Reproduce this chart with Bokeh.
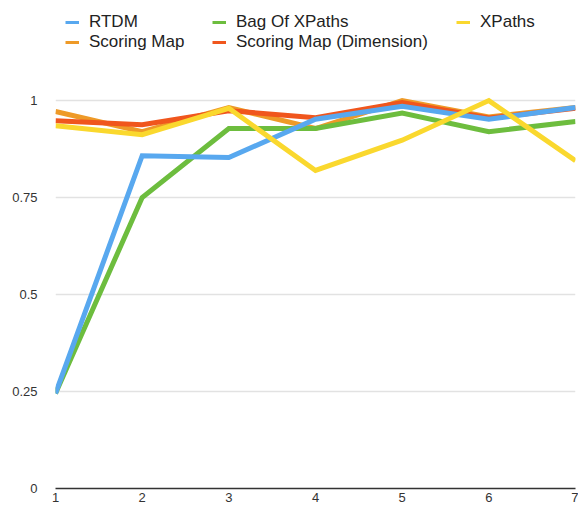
from bokeh.plotting import figure
from bokeh.models import Legend, LegendItem, FixedTicker, Range1d
from bokeh.embed import file_html
from bokeh.resources import INLINE

x = [1, 2, 3, 4, 5, 6, 7]
rtdm = [0.245, 0.858, 0.853, 0.952, 0.985, 0.952, 0.982]
bag_xpaths = [0.245, 0.750, 0.928, 0.928, 0.968, 0.920, 0.946]
xpaths = [0.935, 0.912, 0.980, 0.820, 0.898, 1.000, 0.845]
scoring_map = [0.972, 0.920, 0.982, 0.928, 1.000, 0.958, 0.982]
scoring_dim = [0.948, 0.938, 0.974, 0.956, 0.995, 0.955, 0.980]

y_ticks = [0, 0.25, 0.5, 0.75, 1]
y_labels = ["0", "0.25", "0.5", "0.75", "1"]

FONT = "Liberation Sans"
C_BLUE = "#58a8ef"
C_GREEN = "#6dbd3e"
C_YELLOW = "#fad82e"
C_ORANGE = "#ee9a28"
C_RED = "#f0561d"

p = figure(width=578, height=504, output_backend="svg", toolbar_location=None,
           x_range=Range1d(1, 7), y_range=Range1d(0, 1.258),
           min_border_left=55, min_border_right=3, min_border_top=0,
           min_border_bottom=0)
p.outline_line_color = None
p.background_fill_color = "white"
p.border_fill_color = "white"
p.xgrid.grid_line_color = None
p.ygrid.grid_line_color = "#e2e2e2"
p.ygrid.grid_line_width = 1.5
p.ygrid.ticker = FixedTicker(ticks=[0.25, 0.5, 0.75, 1])

p.yaxis.ticker = FixedTicker(ticks=y_ticks)
p.yaxis.major_label_overrides = {t: l for t, l in zip(y_ticks, y_labels)}
p.yaxis.axis_line_color = None
p.yaxis.major_tick_line_color = None
p.yaxis.minor_tick_line_color = None
p.yaxis.major_label_standoff = 12
p.yaxis.major_label_text_font = FONT
p.yaxis.major_label_text_font_size = "13px"
p.yaxis.major_label_text_color = "#333333"

p.xaxis.ticker = FixedTicker(ticks=x)
p.xaxis.axis_line_color = "#333333"
p.xaxis.axis_line_width = 1.5
p.xaxis.major_tick_line_color = None
p.xaxis.minor_tick_line_color = None
p.xaxis.major_label_standoff = -2
p.xaxis.major_label_text_font = FONT
p.xaxis.major_label_text_font_size = "13px"
p.xaxis.major_label_text_color = "#333333"

lw = 5
p.line(x, scoring_map, line_color=C_ORANGE, line_width=lw, line_join="miter")
p.line(x, scoring_dim, line_color=C_RED, line_width=lw, line_join="miter")
p.line(x, bag_xpaths, line_color=C_GREEN, line_width=lw, line_join="miter")
p.line(x, rtdm, line_color=C_BLUE, line_width=lw, line_join="miter")
p.line(x, xpaths, line_color=C_YELLOW, line_width=lw, line_join="miter")

# thinner legend swatches: hidden duplicates of the series
def swatch(ys, color):
    r = p.line(x, ys, line_color=color, line_width=3)
    r.visible = False
    return r

s_blue = swatch(rtdm, C_BLUE)
s_green = swatch(bag_xpaths, C_GREEN)
s_yellow = swatch(xpaths, C_YELLOW)
s_orange = swatch(scoring_map, C_ORANGE)
s_red = swatch(scoring_dim, C_RED)

def make_legend(items, loc):
    lg = Legend(items=items, location=loc, orientation="vertical",
                glyph_width=14, glyph_height=14, label_height=14,
                label_standoff=10, spacing=0, padding=0, margin=0,
                border_line_color=None, background_fill_alpha=0,
                inactive_fill_alpha=0, click_policy="none",
                label_text_font=FONT, label_text_font_size="17px",
                label_text_color="#222222")
    p.add_layout(lg, "center")
    return lg

make_legend([LegendItem(label="RTDM", renderers=[s_blue]),
             LegendItem(label="Scoring Map", renderers=[s_orange])], (10, 436))
make_legend([LegendItem(label="Bag Of XPaths", renderers=[s_green]),
             LegendItem(label="Scoring Map (Dimension)", renderers=[s_red])], (157, 436))
make_legend([LegendItem(label="XPaths", renderers=[s_yellow])], (401, 456))

open("out.html", "w").write(file_html(p, INLINE))
